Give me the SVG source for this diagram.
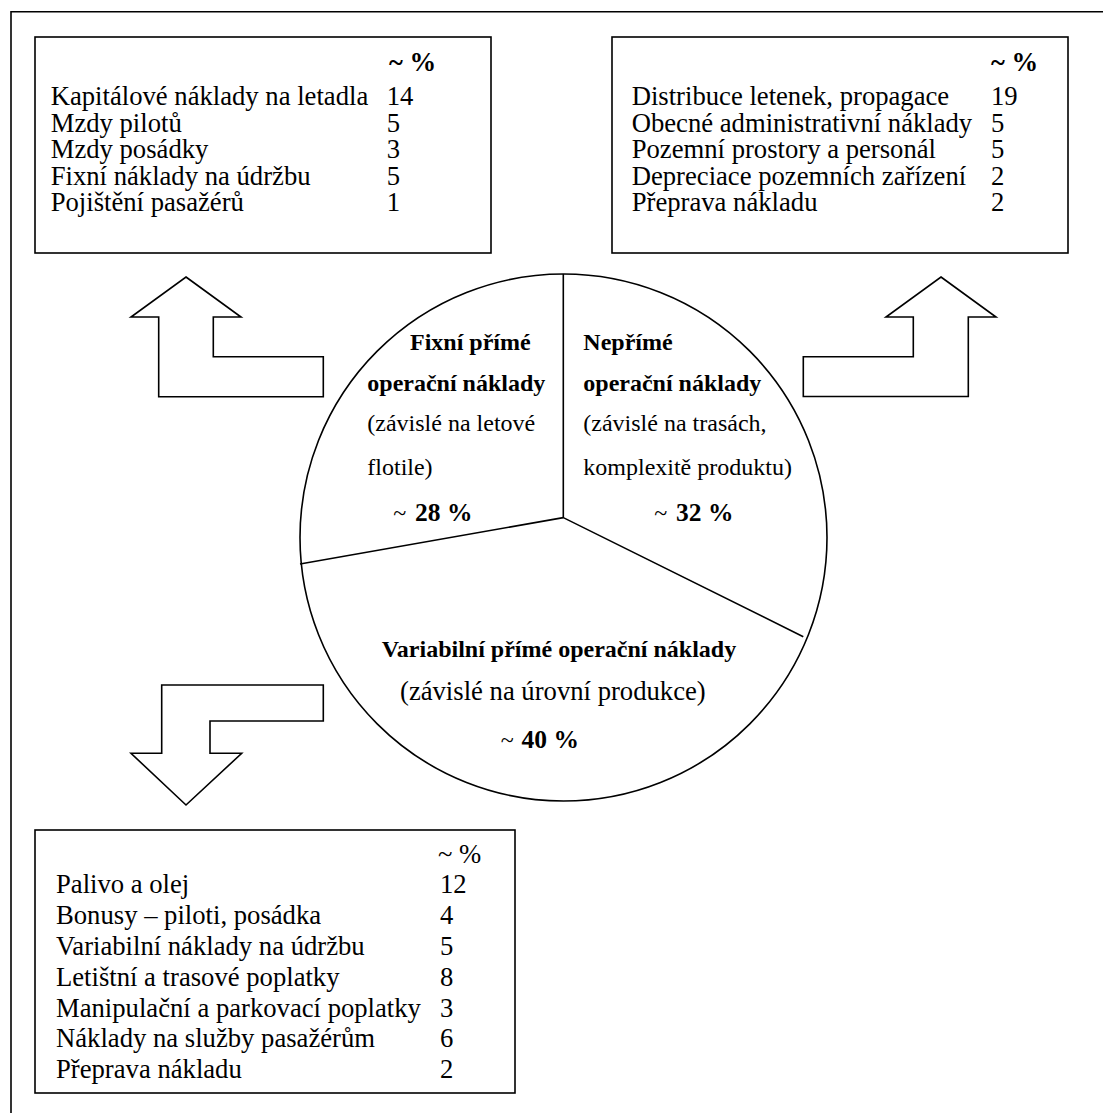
<svg xmlns="http://www.w3.org/2000/svg" width="1103" height="1113" viewBox="0 0 1103 1113">
  <style>
    text { font-family: "Liberation Serif", "Times New Roman", serif; fill: #000; }
    .t { font-size: 26.67px; }
    .p { font-size: 24px; }
    .b { font-weight: bold; }
    .pc { font-size: 25.5px; font-weight: bold; }
    .box { fill: #fff; stroke: #000; stroke-width: 1.6; }
    .arrow { fill: #fff; stroke: #000; stroke-width: 1.6; stroke-linejoin: miter; }
    .line { fill: none; stroke: #000; stroke-width: 1.6; }
  </style>
  <rect width="1103" height="1113" fill="#fff"/>

  <!-- frame: top and left rules only -->
  <g id="frame">
    <line class="line" x1="11" y1="11.7" x2="1103" y2="11.7"/>
    <line class="line" x1="11" y1="11" x2="11" y2="1113"/>
  </g>

  <!-- fixed direct costs -->
  <g id="fixed-costs">
    <rect class="box" x="35" y="37" width="456" height="216"/>
    <text class="t b" x="389" y="71">~ %</text>
    <text class="t" x="50.7" y="105">Kapitálové náklady na letadla</text>
    <text class="t" x="386.7" y="105">14</text>
    <text class="t" x="50.7" y="131.5">Mzdy pilotů</text>
    <text class="t" x="386.7" y="131.5">5</text>
    <text class="t" x="50.7" y="158">Mzdy posádky</text>
    <text class="t" x="386.7" y="158">3</text>
    <text class="t" x="50.7" y="184.5">Fixní náklady na údržbu</text>
    <text class="t" x="386.7" y="184.5">5</text>
    <text class="t" x="50.7" y="211">Pojištění pasažérů</text>
    <text class="t" x="386.7" y="211">1</text>
  </g>

  <!-- indirect costs -->
  <g id="indirect-costs">
    <rect class="box" x="612" y="37" width="456" height="216"/>
    <text class="t b" x="991" y="71">~ %</text>
    <text class="t" x="631.7" y="105">Distribuce letenek, propagace</text>
    <text class="t" x="991" y="105">19</text>
    <text class="t" x="631.7" y="131.5">Obecné administrativní náklady</text>
    <text class="t" x="991" y="131.5">5</text>
    <text class="t" x="631.7" y="158">Pozemní prostory a personál</text>
    <text class="t" x="991" y="158">5</text>
    <text class="t" x="631.7" y="184.5">Depreciace pozemních zařízení</text>
    <text class="t" x="991" y="184.5">2</text>
    <text class="t" x="631.7" y="211">Přeprava nákladu</text>
    <text class="t" x="991" y="211">2</text>
  </g>

  <!-- variable direct costs -->
  <g id="variable-costs">
    <rect class="box" x="35" y="830" width="480" height="263"/>
    <text class="t" x="438" y="862.7">~ %</text>
    <text class="t" x="56" y="893.3">Palivo a olej</text>
    <text class="t" x="440" y="893.3">12</text>
    <text class="t" x="56" y="924.1">Bonusy – piloti, posádka</text>
    <text class="t" x="440" y="924.1">4</text>
    <text class="t" x="56" y="954.9">Variabilní náklady na údržbu</text>
    <text class="t" x="440" y="954.9">5</text>
    <text class="t" x="56" y="985.7">Letištní a trasové poplatky</text>
    <text class="t" x="440" y="985.7">8</text>
    <text class="t" x="56" y="1016.5">Manipulační a parkovací poplatky</text>
    <text class="t" x="440" y="1016.5">3</text>
    <text class="t" x="56" y="1047.3">Náklady na služby pasažérům</text>
    <text class="t" x="440" y="1047.3">6</text>
    <text class="t" x="56" y="1078.1">Přeprava nákladu</text>
    <text class="t" x="440" y="1078.1">2</text>
  </g>

  <!-- cost structure pie -->
  <g id="pie">
    <circle class="line" cx="563.5" cy="537.5" r="263.5"/>
    <polyline class="line" points="563.3,274 563.3,517.6 803.3,636.7"/>
    <line class="line" x1="563.3" y1="517.6" x2="300" y2="564"/>

    <text class="p b" x="410" y="349.7">Fixní přímé</text>
    <text class="p b" x="367.3" y="391">operační náklady</text>
    <text class="p" x="367.3" y="431.4">(závislé na letové</text>
    <text class="p" x="367.3" y="474.5">flotile)</text>
    <text x="393.3" y="521"><tspan class="p">~</tspan><tspan class="pc" x="415">28 %</tspan></text>

    <text class="p b" x="583.3" y="349.7">Nepřímé</text>
    <text class="p b" x="583.3" y="391">operační náklady</text>
    <text class="p" x="583.3" y="431.4">(závislé na trasách,</text>
    <text class="p" x="583.3" y="474.5">komplexitě produktu)</text>
    <text x="654.3" y="521"><tspan class="p">~</tspan><tspan class="pc" x="676">32 %</tspan></text>

    <text class="p b" x="381.7" y="656.6">Variabilní přímé operační náklady</text>
    <text class="t" x="400" y="700.3">(závislé na úrovní produkce)</text>
    <text x="500.7" y="747.5"><tspan class="p">~</tspan><tspan class="pc" x="521.5">40 %</tspan></text>
  </g>

  <!-- connectors: block arrows between the pie and the boxes -->
  <g id="connectors">
    <polygon class="arrow" points="186,277 241,317 213.3,317 213.3,356.7 323.3,356.7 323.3,396.7 158.7,396.7 158.7,317 131,317"/>
    <polygon class="arrow" points="941,277 996,317 968.3,317 968.3,396.5 803.3,396.5 803.3,356.7 913.3,356.7 913.3,317 886,317"/>
    <polygon class="arrow" points="161.7,685 323.3,685 323.3,721 210,721 210,753.3 241.7,753.3 186,805 131,753.3 161.7,753.3"/>
  </g>
</svg>
